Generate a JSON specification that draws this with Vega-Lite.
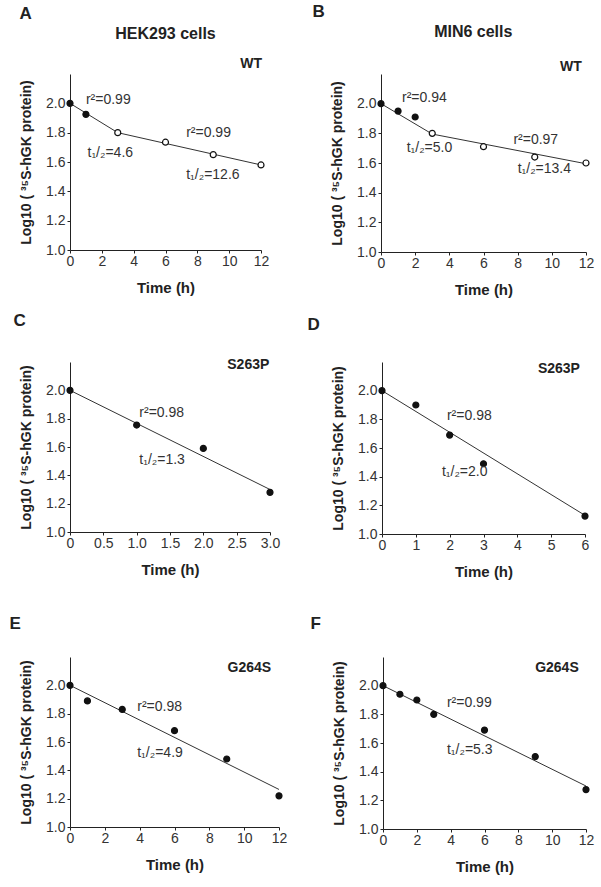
{
  "$schema": "https://vega.github.io/schema/vega-lite/v6.json",
  "padding": {"left": 9, "top": 3, "right": 5, "bottom": 5},
  "datasets": {
    "pts": [
      {"panel": "A", "time": 0, "log": 2.0, "phase": "fast"},
      {"panel": "A", "time": 1, "log": 1.925, "phase": "fast"},
      {"panel": "A", "time": 3, "log": 1.80, "phase": "slow"},
      {"panel": "A", "time": 6, "log": 1.735, "phase": "slow"},
      {"panel": "A", "time": 9, "log": 1.65, "phase": "slow"},
      {"panel": "A", "time": 12, "log": 1.58, "phase": "slow"},
      {"panel": "B", "time": 0, "log": 2.0, "phase": "fast"},
      {"panel": "B", "time": 1, "log": 1.95, "phase": "fast"},
      {"panel": "B", "time": 2, "log": 1.91, "phase": "fast"},
      {"panel": "B", "time": 3, "log": 1.80, "phase": "slow"},
      {"panel": "B", "time": 6, "log": 1.71, "phase": "slow"},
      {"panel": "B", "time": 9, "log": 1.64, "phase": "slow"},
      {"panel": "B", "time": 12, "log": 1.60, "phase": "slow"},
      {"panel": "C", "time": 0, "log": 2.0, "phase": "fast"},
      {"panel": "C", "time": 1, "log": 1.755, "phase": "fast"},
      {"panel": "C", "time": 2, "log": 1.59, "phase": "fast"},
      {"panel": "C", "time": 3, "log": 1.28, "phase": "fast"},
      {"panel": "D", "time": 0, "log": 2.0, "phase": "fast"},
      {"panel": "D", "time": 1, "log": 1.90, "phase": "fast"},
      {"panel": "D", "time": 2, "log": 1.69, "phase": "fast"},
      {"panel": "D", "time": 3, "log": 1.49, "phase": "fast"},
      {"panel": "D", "time": 6, "log": 1.125, "phase": "fast"},
      {"panel": "E", "time": 0, "log": 2.0, "phase": "fast"},
      {"panel": "E", "time": 1, "log": 1.89, "phase": "fast"},
      {"panel": "E", "time": 3, "log": 1.83, "phase": "fast"},
      {"panel": "E", "time": 6, "log": 1.68, "phase": "fast"},
      {"panel": "E", "time": 9, "log": 1.48, "phase": "fast"},
      {"panel": "E", "time": 12, "log": 1.22, "phase": "fast"},
      {"panel": "F", "time": 0, "log": 2.0, "phase": "fast"},
      {"panel": "F", "time": 1, "log": 1.94, "phase": "fast"},
      {"panel": "F", "time": 2, "log": 1.90, "phase": "fast"},
      {"panel": "F", "time": 3, "log": 1.80, "phase": "fast"},
      {"panel": "F", "time": 6, "log": 1.69, "phase": "fast"},
      {"panel": "F", "time": 9, "log": 1.505, "phase": "fast"},
      {"panel": "F", "time": 12, "log": 1.275, "phase": "fast"}
    ],
    "fit": [
      {"panel": "A", "seg": 1, "time": 0, "log": 2.0},
      {"panel": "A", "seg": 1, "time": 3, "log": 1.80},
      {"panel": "A", "seg": 2, "time": 3, "log": 1.80},
      {"panel": "A", "seg": 2, "time": 12, "log": 1.58},
      {"panel": "B", "seg": 1, "time": 0, "log": 2.0},
      {"panel": "B", "seg": 1, "time": 3, "log": 1.795},
      {"panel": "B", "seg": 2, "time": 3, "log": 1.795},
      {"panel": "B", "seg": 2, "time": 12, "log": 1.595},
      {"panel": "C", "seg": 1, "time": 0, "log": 2.0},
      {"panel": "C", "seg": 1, "time": 3, "log": 1.30},
      {"panel": "D", "seg": 1, "time": 0, "log": 2.0},
      {"panel": "D", "seg": 1, "time": 6, "log": 1.13},
      {"panel": "E", "seg": 1, "time": 0, "log": 2.0},
      {"panel": "E", "seg": 1, "time": 12, "log": 1.265},
      {"panel": "F", "seg": 1, "time": 0, "log": 2.0},
      {"panel": "F", "seg": 1, "time": 12, "log": 1.30}
    ],
    "ann": [
      {"panel": "A", "kind": "cell", "time": 6, "log": 2.47, "label": "HEK293 cells"},
      {"panel": "A", "kind": "variant", "time": 12.07, "log": 2.27, "label": "WT"},
      {"panel": "A", "kind": "stat", "time": 1.0, "log": 2.02, "label": "r²=0.99"},
      {"panel": "A", "kind": "stat", "time": 1.1, "log": 1.66, "label": "t₁/₂=4.6"},
      {"panel": "A", "kind": "stat", "time": 7.3, "log": 1.795, "label": "r²=0.99"},
      {"panel": "A", "kind": "stat", "time": 7.3, "log": 1.51, "label": "t₁/₂=12.6"},
      {"panel": "B", "kind": "cell", "time": 5.4, "log": 2.48, "label": "MIN6 cells"},
      {"panel": "B", "kind": "variant", "time": 11.75, "log": 2.245, "label": "WT"},
      {"panel": "B", "kind": "stat", "time": 1.23, "log": 2.04, "label": "r²=0.94"},
      {"panel": "B", "kind": "stat", "time": 1.5, "log": 1.70, "label": "t₁/₂=5.0"},
      {"panel": "B", "kind": "stat", "time": 7.75, "log": 1.755, "label": "r²=0.97"},
      {"panel": "B", "kind": "stat", "time": 8.0, "log": 1.56, "label": "t₁/₂=13.4"},
      {"panel": "C", "kind": "variant", "time": 2.99, "log": 2.18, "label": "S263P"},
      {"panel": "C", "kind": "stat", "time": 1.04, "log": 1.84, "label": "r²=0.98"},
      {"panel": "C", "kind": "stat", "time": 1.04, "log": 1.51, "label": "t₁/₂=1.3"},
      {"panel": "D", "kind": "variant", "time": 5.85, "log": 2.15, "label": "S263P"},
      {"panel": "D", "kind": "stat", "time": 1.92, "log": 1.82, "label": "r²=0.98"},
      {"panel": "D", "kind": "stat", "time": 1.77, "log": 1.43, "label": "t₁/₂=2.0"},
      {"panel": "E", "kind": "variant", "time": 11.55, "log": 2.12, "label": "G264S"},
      {"panel": "E", "kind": "stat", "time": 3.86, "log": 1.85, "label": "r²=0.98"},
      {"panel": "E", "kind": "stat", "time": 3.86, "log": 1.52, "label": "t₁/₂=4.9"},
      {"panel": "F", "kind": "variant", "time": 11.57, "log": 2.125, "label": "G264S"},
      {"panel": "F", "kind": "stat", "time": 3.78, "log": 1.88, "label": "r²=0.99"},
      {"panel": "F", "kind": "stat", "time": 3.78, "log": 1.55, "label": "t₁/₂=5.3"}
    ]
  },
  "config": {
    "view": {"stroke": null},
    "font": "Liberation Sans",
    "axis": {
      "grid": false,
      "domainColor": "#222",
      "tickColor": "#222",
      "labelColor": "#333",
      "labelFontSize": 14,
      "labelFont": "Liberation Sans",
      "titleFont": "Liberation Sans",
      "titleFontSize": 14,
      "titleFontWeight": "bold",
      "titleColor": "#222",
      "labelFlush": false,
      "labelOverlap": false
    },
    "axisY": {"tickSize": 3, "labelPadding": 2, "titlePadding": 12},
    "axisX": {"tickSize": 3, "labelPadding": 1, "titlePadding": 12, "titleFontSize": 15},
    "title": {"fontSize": 17, "fontWeight": "bold", "anchor": "start", "frame": "bounds", "color": "#222", "font": "Liberation Sans", "lineHeight": 22}
  },
  "vconcat": [
    {
      "spacing": 43,
      "hconcat": [
        {
          "title": {"text": "A", "offset": 3},
          "width": 191, "height": 176,
          "layer": [
            {"data": {"name": "fit"}, "transform": [{"filter": "datum.panel === 'A'"}], "mark": {"type": "line", "color": "#333", "strokeWidth": 1},
             "encoding": {"x": {"field": "time", "type": "quantitative", "scale": {"domain": [0, 12], "nice": false}, "axis": {"values": [0, 2, 4, 6, 8, 10, 12], "format": "d", "tickCount": 20, "labelOverlap": false, "title": "Time (h)"}},
                          "y": {"field": "log", "type": "quantitative", "scale": {"domain": [1, 2.2], "nice": false}, "axis": {"values": [1, 1.2, 1.4, 1.6, 1.8, 2.0], "tickCount": 20, "labelOverlap": false, "format": ".1f", "title": "Log10 ( ³⁵S-hGK protein)"}},
                          "detail": {"field": "seg"}}},
            {"data": {"name": "pts"}, "transform": [{"filter": "datum.panel === 'A'"}], "mark": {"type": "point", "filled": false, "size": 36, "stroke": "#111", "strokeWidth": 1.2, "opacity": 1},
             "encoding": {"x": {"field": "time", "type": "quantitative"}, "y": {"field": "log", "type": "quantitative"},
                          "fill": {"field": "phase", "type": "nominal", "scale": {"domain": ["fast", "slow"], "range": ["#111", "#ffffff"]}, "legend": null}}},
            {"data": {"name": "ann"}, "transform": [{"filter": "datum.panel === 'A' && datum.kind === 'cell'"}], "mark": {"type": "text", "align": "center", "baseline": "middle", "fontSize": 16, "fontWeight": "bold", "color": "#222"},
             "encoding": {"x": {"field": "time", "type": "quantitative"}, "y": {"field": "log", "type": "quantitative"}, "text": {"field": "label"}}},
            {"data": {"name": "ann"}, "transform": [{"filter": "datum.panel === 'A' && datum.kind === 'variant'"}], "mark": {"type": "text", "align": "right", "baseline": "middle", "fontSize": 14, "fontWeight": "bold", "color": "#222"},
             "encoding": {"x": {"field": "time", "type": "quantitative"}, "y": {"field": "log", "type": "quantitative"}, "text": {"field": "label"}}},
            {"data": {"name": "ann"}, "transform": [{"filter": "datum.panel === 'A' && datum.kind === 'stat'"}], "mark": {"type": "text", "align": "left", "baseline": "middle", "fontSize": 14, "color": "#333"},
             "encoding": {"x": {"field": "time", "type": "quantitative"}, "y": {"field": "log", "type": "quantitative"}, "text": {"field": "label"}}}
          ]
        },
        {
          "title": {"text": "B", "offset": 3, "dx": -18},
          "width": 205, "height": 178,
          "layer": [
            {"data": {"name": "fit"}, "transform": [{"filter": "datum.panel === 'B'"}], "mark": {"type": "line", "color": "#333", "strokeWidth": 1},
             "encoding": {"x": {"field": "time", "type": "quantitative", "scale": {"domain": [0, 12], "nice": false}, "axis": {"values": [0, 2, 4, 6, 8, 10, 12], "format": "d", "tickCount": 20, "labelOverlap": false, "title": "Time (h)"}},
                          "y": {"field": "log", "type": "quantitative", "scale": {"domain": [1, 2.2], "nice": false}, "axis": {"values": [1, 1.2, 1.4, 1.6, 1.8, 2.0], "tickCount": 20, "labelOverlap": false, "format": ".1f", "title": "Log10 ( ³⁵S-hGK protein)"}},
                          "detail": {"field": "seg"}}},
            {"data": {"name": "pts"}, "transform": [{"filter": "datum.panel === 'B'"}], "mark": {"type": "point", "filled": false, "size": 36, "stroke": "#111", "strokeWidth": 1.2, "opacity": 1},
             "encoding": {"x": {"field": "time", "type": "quantitative"}, "y": {"field": "log", "type": "quantitative"},
                          "fill": {"field": "phase", "type": "nominal", "scale": {"domain": ["fast", "slow"], "range": ["#111", "#ffffff"]}, "legend": null}}},
            {"data": {"name": "ann"}, "transform": [{"filter": "datum.panel === 'B' && datum.kind === 'cell'"}], "mark": {"type": "text", "align": "center", "baseline": "middle", "fontSize": 16, "fontWeight": "bold", "color": "#222"},
             "encoding": {"x": {"field": "time", "type": "quantitative"}, "y": {"field": "log", "type": "quantitative"}, "text": {"field": "label"}}},
            {"data": {"name": "ann"}, "transform": [{"filter": "datum.panel === 'B' && datum.kind === 'variant'"}], "mark": {"type": "text", "align": "right", "baseline": "middle", "fontSize": 14, "fontWeight": "bold", "color": "#222"},
             "encoding": {"x": {"field": "time", "type": "quantitative"}, "y": {"field": "log", "type": "quantitative"}, "text": {"field": "label"}}},
            {"data": {"name": "ann"}, "transform": [{"filter": "datum.panel === 'B' && datum.kind === 'stat'"}], "mark": {"type": "text", "align": "left", "baseline": "middle", "fontSize": 14, "color": "#333"},
             "encoding": {"x": {"field": "time", "type": "quantitative"}, "y": {"field": "log", "type": "quantitative"}, "text": {"field": "label"}}}
          ]
        }
      ]
    },
    {
      "spacing": 27,
      "hconcat": [
        {
          "title": {"text": "C", "offset": 28, "dx": -6},
          "width": 200, "height": 170,
          "layer": [
            {"data": {"name": "fit"}, "transform": [{"filter": "datum.panel === 'C'"}], "mark": {"type": "line", "color": "#333", "strokeWidth": 1},
             "encoding": {"x": {"field": "time", "type": "quantitative", "scale": {"domain": [0, 3], "nice": false}, "axis": {"values": [0, 0.5, 1, 1.5, 2, 2.5, 3], "tickCount": 20, "labelOverlap": false, "labelExpr": "datum.value === 0 ? '0' : format(datum.value, '.1f')", "title": "Time (h)"}},
                          "y": {"field": "log", "type": "quantitative", "scale": {"domain": [1, 2.2], "nice": false}, "axis": {"values": [1, 1.2, 1.4, 1.6, 1.8, 2.0], "tickCount": 20, "labelOverlap": false, "format": ".1f", "title": "Log10 ( ³⁵S-hGK protein)"}},
                          "detail": {"field": "seg"}}},
            {"data": {"name": "pts"}, "transform": [{"filter": "datum.panel === 'C'"}], "mark": {"type": "point", "filled": false, "size": 36, "stroke": "#111", "strokeWidth": 1.2, "opacity": 1},
             "encoding": {"x": {"field": "time", "type": "quantitative"}, "y": {"field": "log", "type": "quantitative"},
                          "fill": {"field": "phase", "type": "nominal", "scale": {"domain": ["fast", "slow"], "range": ["#111", "#ffffff"]}, "legend": null}}},
            {"data": {"name": "ann"}, "transform": [{"filter": "datum.panel === 'C' && datum.kind === 'variant'"}], "mark": {"type": "text", "align": "right", "baseline": "middle", "fontSize": 14, "fontWeight": "bold", "color": "#222"},
             "encoding": {"x": {"field": "time", "type": "quantitative"}, "y": {"field": "log", "type": "quantitative"}, "text": {"field": "label"}}},
            {"data": {"name": "ann"}, "transform": [{"filter": "datum.panel === 'C' && datum.kind === 'stat'"}], "mark": {"type": "text", "align": "left", "baseline": "middle", "fontSize": 14, "color": "#333"},
             "encoding": {"x": {"field": "time", "type": "quantitative"}, "y": {"field": "log", "type": "quantitative"}, "text": {"field": "label"}}}
          ]
        },
        {
          "title": {"text": "D", "offset": 28, "dx": -24},
          "width": 203, "height": 172,
          "layer": [
            {"data": {"name": "fit"}, "transform": [{"filter": "datum.panel === 'D'"}], "mark": {"type": "line", "color": "#333", "strokeWidth": 1},
             "encoding": {"x": {"field": "time", "type": "quantitative", "scale": {"domain": [0, 6], "nice": false}, "axis": {"values": [0, 1, 2, 3, 4, 5, 6], "format": "d", "tickCount": 20, "labelOverlap": false, "title": "Time (h)"}},
                          "y": {"field": "log", "type": "quantitative", "scale": {"domain": [1, 2.2], "nice": false}, "axis": {"values": [1, 1.2, 1.4, 1.6, 1.8, 2.0], "tickCount": 20, "labelOverlap": false, "format": ".1f", "title": "Log10 ( ³⁵S-hGK protein)"}},
                          "detail": {"field": "seg"}}},
            {"data": {"name": "pts"}, "transform": [{"filter": "datum.panel === 'D'"}], "mark": {"type": "point", "filled": false, "size": 36, "stroke": "#111", "strokeWidth": 1.2, "opacity": 1},
             "encoding": {"x": {"field": "time", "type": "quantitative"}, "y": {"field": "log", "type": "quantitative"},
                          "fill": {"field": "phase", "type": "nominal", "scale": {"domain": ["fast", "slow"], "range": ["#111", "#ffffff"]}, "legend": null}}},
            {"data": {"name": "ann"}, "transform": [{"filter": "datum.panel === 'D' && datum.kind === 'variant'"}], "mark": {"type": "text", "align": "right", "baseline": "middle", "fontSize": 14, "fontWeight": "bold", "color": "#222"},
             "encoding": {"x": {"field": "time", "type": "quantitative"}, "y": {"field": "log", "type": "quantitative"}, "text": {"field": "label"}}},
            {"data": {"name": "ann"}, "transform": [{"filter": "datum.panel === 'D' && datum.kind === 'stat'"}], "mark": {"type": "text", "align": "left", "baseline": "middle", "fontSize": 14, "color": "#333"},
             "encoding": {"x": {"field": "time", "type": "quantitative"}, "y": {"field": "log", "type": "quantitative"}, "text": {"field": "label"}}}
          ]
        }
      ]
    },
    {
      "spacing": 23,
      "hconcat": [
        {
          "title": {"text": ["", "E"], "offset": 24, "dx": -10},
          "width": 209, "height": 170,
          "layer": [
            {"data": {"name": "fit"}, "transform": [{"filter": "datum.panel === 'E'"}], "mark": {"type": "line", "color": "#333", "strokeWidth": 1},
             "encoding": {"x": {"field": "time", "type": "quantitative", "scale": {"domain": [0, 12], "nice": false}, "axis": {"values": [0, 2, 4, 6, 8, 10, 12], "format": "d", "tickCount": 20, "labelOverlap": false, "title": "Time (h)"}},
                          "y": {"field": "log", "type": "quantitative", "scale": {"domain": [1, 2.2], "nice": false}, "axis": {"values": [1, 1.2, 1.4, 1.6, 1.8, 2.0], "tickCount": 20, "labelOverlap": false, "format": ".1f", "title": "Log10 ( ³⁵S-hGK protein)"}},
                          "detail": {"field": "seg"}}},
            {"data": {"name": "pts"}, "transform": [{"filter": "datum.panel === 'E'"}], "mark": {"type": "point", "filled": false, "size": 36, "stroke": "#111", "strokeWidth": 1.2, "opacity": 1},
             "encoding": {"x": {"field": "time", "type": "quantitative"}, "y": {"field": "log", "type": "quantitative"},
                          "fill": {"field": "phase", "type": "nominal", "scale": {"domain": ["fast", "slow"], "range": ["#111", "#ffffff"]}, "legend": null}}},
            {"data": {"name": "ann"}, "transform": [{"filter": "datum.panel === 'E' && datum.kind === 'variant'"}], "mark": {"type": "text", "align": "right", "baseline": "middle", "fontSize": 14, "fontWeight": "bold", "color": "#222"},
             "encoding": {"x": {"field": "time", "type": "quantitative"}, "y": {"field": "log", "type": "quantitative"}, "text": {"field": "label"}}},
            {"data": {"name": "ann"}, "transform": [{"filter": "datum.panel === 'E' && datum.kind === 'stat'"}], "mark": {"type": "text", "align": "left", "baseline": "middle", "fontSize": 14, "color": "#333"},
             "encoding": {"x": {"field": "time", "type": "quantitative"}, "y": {"field": "log", "type": "quantitative"}, "text": {"field": "label"}}}
          ]
        },
        {
          "title": {"text": ["", "F"], "offset": 24, "dx": -22},
          "width": 203, "height": 172,
          "layer": [
            {"data": {"name": "fit"}, "transform": [{"filter": "datum.panel === 'F'"}], "mark": {"type": "line", "color": "#333", "strokeWidth": 1},
             "encoding": {"x": {"field": "time", "type": "quantitative", "scale": {"domain": [0, 12], "nice": false}, "axis": {"values": [0, 2, 4, 6, 8, 10, 12], "format": "d", "tickCount": 20, "labelOverlap": false, "title": "Time (h)"}},
                          "y": {"field": "log", "type": "quantitative", "scale": {"domain": [1, 2.2], "nice": false}, "axis": {"values": [1, 1.2, 1.4, 1.6, 1.8, 2.0], "tickCount": 20, "labelOverlap": false, "format": ".1f", "title": "Log10 ( ³⁵S-hGK protein)"}},
                          "detail": {"field": "seg"}}},
            {"data": {"name": "pts"}, "transform": [{"filter": "datum.panel === 'F'"}], "mark": {"type": "point", "filled": false, "size": 36, "stroke": "#111", "strokeWidth": 1.2, "opacity": 1},
             "encoding": {"x": {"field": "time", "type": "quantitative"}, "y": {"field": "log", "type": "quantitative"},
                          "fill": {"field": "phase", "type": "nominal", "scale": {"domain": ["fast", "slow"], "range": ["#111", "#ffffff"]}, "legend": null}}},
            {"data": {"name": "ann"}, "transform": [{"filter": "datum.panel === 'F' && datum.kind === 'variant'"}], "mark": {"type": "text", "align": "right", "baseline": "middle", "fontSize": 14, "fontWeight": "bold", "color": "#222"},
             "encoding": {"x": {"field": "time", "type": "quantitative"}, "y": {"field": "log", "type": "quantitative"}, "text": {"field": "label"}}},
            {"data": {"name": "ann"}, "transform": [{"filter": "datum.panel === 'F' && datum.kind === 'stat'"}], "mark": {"type": "text", "align": "left", "baseline": "middle", "fontSize": 14, "color": "#333"},
             "encoding": {"x": {"field": "time", "type": "quantitative"}, "y": {"field": "log", "type": "quantitative"}, "text": {"field": "label"}}}
          ]
        }
      ]
    }
  ],
  "spacing": 14
}
